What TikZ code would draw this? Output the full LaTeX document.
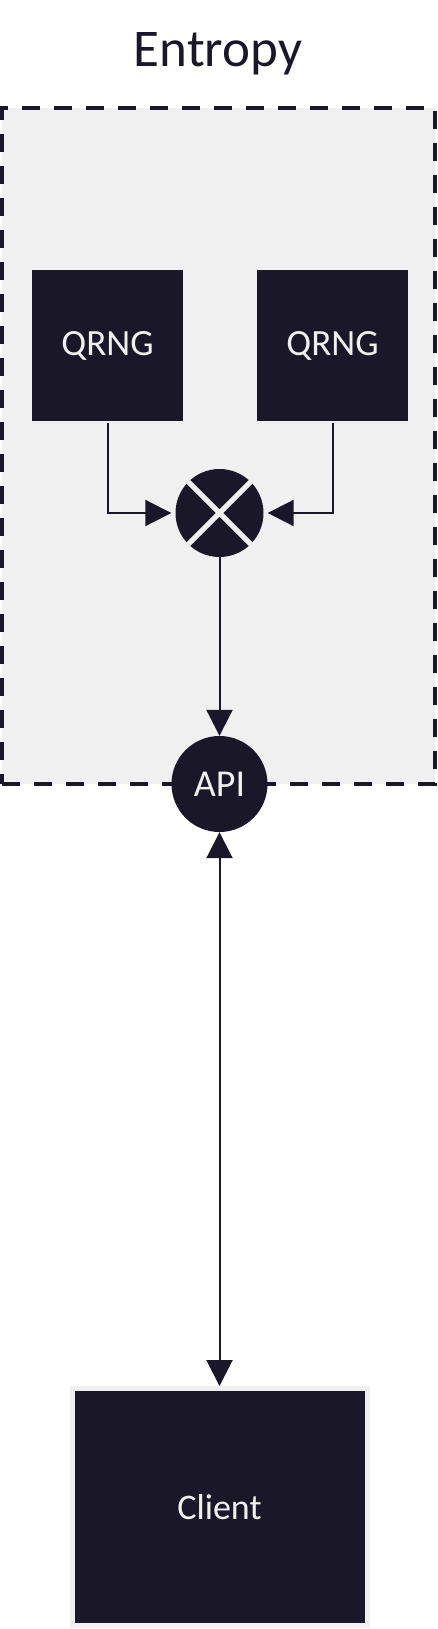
\documentclass[tikz,border=0pt]{standalone}
\usepackage{fontspec}
\setmainfont{Carlito}
\usetikzlibrary{arrows.meta}
\definecolor{ink}{HTML}{1A1828}
\definecolor{paper}{HTML}{F0F0F0}
\begin{document}
\begin{tikzpicture}[x=1pt,y=-1pt,
  darkbox/.style={fill=ink, draw=none, text=paper, minimum width=151pt, minimum height=151pt, inner sep=0pt, font=\fontsize{37}{40}\selectfont},
  group/.style={fill=paper, draw=ink, line width=4pt, dash pattern=on 18pt off 14pt, inner sep=0pt},
  conn/.style={draw=ink, line width=2pt, -{Triangle[length=26pt,width=26pt]}},
  dconn/.style={draw=ink, line width=2pt, {Triangle[length=26pt,width=26pt]}-{Triangle[length=26pt,width=26pt]}},
  ]
\useasboundingbox (0,0) rectangle (437,1629);
\fill[white] (0,0) rectangle (437,1629);
\node[font=\fontsize{53}{60}\selectfont, text=ink] (title) at (218,54) {Entropy};
\node[group, minimum width=433pt, minimum height=676pt] (entropy) at (218.5,446) {};
\node[darkbox] (q1) at (107.5,345.5) {QRNG};
\node[darkbox] (q2) at (332.5,345.5) {QRNG};
\node[circle, fill=ink, minimum size=88pt, inner sep=0pt] (mix) at (219.5,513) {};
\draw[paper, line width=5pt] (mix.45) -- (mix.225) (mix.135) -- (mix.315);
\node[circle, fill=ink, text=paper, minimum size=96pt, inner sep=0pt, font=\fontsize{38}{40}\selectfont] (api) at (219.5,784) {API};
\node[fill=ink, draw=paper, line width=5pt, text=paper, minimum width=295pt, minimum height=237pt, inner sep=0pt, font=\fontsize{36}{40}\selectfont] (client) at (219.5,1507) {Client};
\draw[conn, shorten <=2pt, shorten >=4pt] (q1.south) |- (mix.west);
\draw[conn, shorten <=2pt, shorten >=4pt] (q2.south) |- (mix.east);
\draw[conn] (mix.south) -- (api.north);
\draw[dconn] (api.south) -- (client.north);
\end{tikzpicture}
\end{document}
